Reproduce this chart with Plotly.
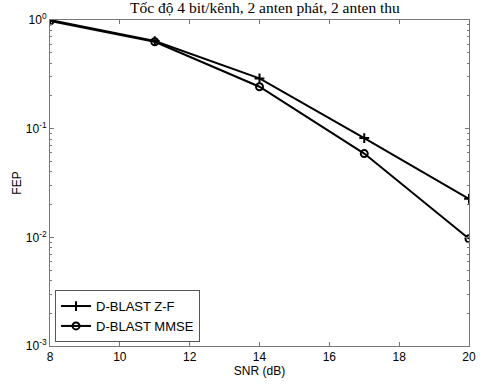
import plotly.graph_objects as go

snr = [8, 11, 14, 17, 20]
fep_zf = [1.0, 0.64, 0.29, 0.082, 0.0226]
fep_mmse = [0.98, 0.63, 0.243, 0.059, 0.0097]
series_names = ["D-BLAST Z-F", "D-BLAST MMSE"]
x_ticks = [8, 10, 12, 14, 16, 18, 20]
y_tickvals = [1e-3, 1e-2, 1e-1, 1]
y_ticktext = ["10<sup>-3</sup>", "10<sup>-2</sup>", "10<sup>-1</sup>", "10<sup>0</sup>"]
y_minor = [m * d for d in [1e-3, 1e-2, 1e-1] for m in range(2, 10)]
title_text = "Tốc độ 4 bit/kênh, 2 anten phát, 2 anten thu"

fig = go.Figure()
fig.add_trace(go.Scatter(
    x=snr, y=fep_zf, name=series_names[0], mode="lines+markers",
    line=dict(color="black", width=2),
    marker=dict(symbol="cross-thin", size=7, color="black", line=dict(color="black", width=2)),
))
fig.add_trace(go.Scatter(
    x=snr, y=fep_mmse, name=series_names[1], mode="lines+markers",
    line=dict(color="black", width=2),
    marker=dict(symbol="circle-open", size=7, color="black", line=dict(color="black", width=2)),
))

axis_font = dict(family="Liberation Sans, Arial, sans-serif", size=12, color="black")
fig.update_layout(
    width=498, height=384,
    margin=dict(l=50, r=29, t=20, b=38, autoexpand=False),
    paper_bgcolor="white", plot_bgcolor="white",
    title=dict(text=title_text, xref="container", x=0.532, xanchor="center",
               yref="container", y=0.995, yanchor="top",
               font=dict(family="Liberation Serif, Times New Roman, serif", size=15.5, color="black")),
    showlegend=True,
    legend=dict(x=0.012, y=0.012, xanchor="left", yanchor="bottom",
                bgcolor="white", bordercolor="#555", borderwidth=1,
                font=dict(family="Liberation Sans, Arial, sans-serif", size=13, color="black"),
                itemwidth=30, tracegroupgap=0),
    xaxis=dict(range=[8, 20], tickvals=x_ticks, ticks="inside", ticklen=4, tickcolor="#777",
               showline=True, linecolor="#777", linewidth=1, mirror="ticks", automargin=False,
               showgrid=False, zeroline=False, tickfont=axis_font,
               title=dict(text="SNR (dB)", font=dict(family="Liberation Sans, Arial, sans-serif", size=12, color="black"), standoff=1)),
    yaxis=dict(type="log", range=[-3, 0], tickmode="array", tickvals=y_tickvals, ticktext=y_ticktext,
               ticks="inside", ticklen=4, tickcolor="#777", automargin=False,
               minor=dict(tickmode="array", tickvals=y_minor, ticks="inside", ticklen=2,
                          showgrid=False, tickcolor="#777"),
               showline=True, linecolor="#777", linewidth=1, mirror="ticks",
               showgrid=False, zeroline=False, tickfont=axis_font,
               title=dict(text="FEP", font=dict(family="Liberation Sans, Arial, sans-serif", size=12, color="black"), standoff=1)),
)

fig.write_html("out.html", config={"displayModeBar": False},
               post_script="document.body.style.margin='0';document.body.style.padding='0';document.body.style.overflow='hidden';")
